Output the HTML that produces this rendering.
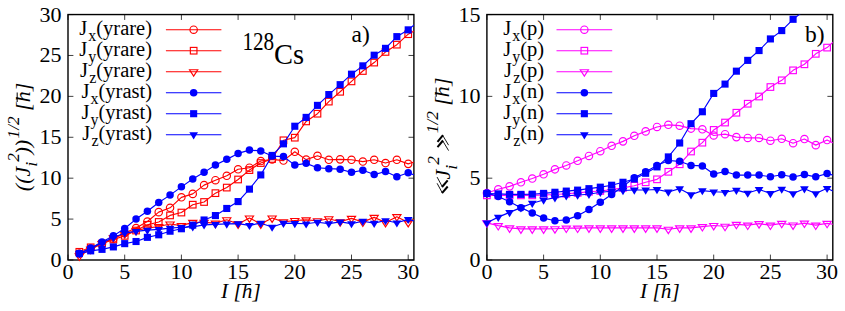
<!DOCTYPE html>
<html><head><meta charset="utf-8"><title>128Cs angular momentum components</title>
<style>html,body{margin:0;padding:0;background:#fff}body{width:845px;height:311px;overflow:hidden;font-family:"Liberation Serif",serif}svg{display:block}text{white-space:pre}</style>
</head><body>
<svg width="845" height="311" viewBox="0 0 845 311" font-family="'Liberation Serif', serif" font-size="20.5" fill="#000">
<rect width="845" height="311" fill="#fff"/>
<clipPath id="ca"><rect x="68.0" y="14.55" width="345.90" height="245.45"/></clipPath>
<clipPath id="cb"><rect x="486.9" y="14.55" width="345.90" height="245.45"/></clipPath>
<path d="M68.00 260.0v-5.4M68.00 14.55v5.4M124.70 260.0v-5.4M124.70 14.55v5.4M181.40 260.0v-5.4M181.40 14.55v5.4M238.10 260.0v-5.4M238.10 14.55v5.4M294.80 260.0v-5.4M294.80 14.55v5.4M351.50 260.0v-5.4M351.50 14.55v5.4M408.20 260.0v-5.4M408.20 14.55v5.4M68.0 260.00h5.4M413.9 260.00h-5.4M68.0 219.09h5.4M413.9 219.09h-5.4M68.0 178.18h5.4M413.9 178.18h-5.4M68.0 137.28h5.4M413.9 137.28h-5.4M68.0 96.37h5.4M413.9 96.37h-5.4M68.0 55.46h5.4M413.9 55.46h-5.4M68.0 14.55h5.4M413.9 14.55h-5.4" stroke="#000" stroke-width="0.75" fill="none"/>
<rect x="68.0" y="14.55" width="345.90" height="245.45" fill="none" stroke="#000" stroke-width="1.4"/>
<text transform="translate(68.00,279.1) scale(1.06,1)" font-size="20.8" text-anchor="middle">0</text>
<text transform="translate(124.70,279.1) scale(1.06,1)" font-size="20.8" text-anchor="middle">5</text>
<text transform="translate(181.40,279.1) scale(1.06,1)" font-size="20.8" text-anchor="middle">10</text>
<text transform="translate(238.10,279.1) scale(1.06,1)" font-size="20.8" text-anchor="middle">15</text>
<text transform="translate(294.80,279.1) scale(1.06,1)" font-size="20.8" text-anchor="middle">20</text>
<text transform="translate(351.50,279.1) scale(1.06,1)" font-size="20.8" text-anchor="middle">25</text>
<text transform="translate(408.20,279.1) scale(1.06,1)" font-size="20.8" text-anchor="middle">30</text>
<text transform="translate(61.60,267.00) scale(1.06,1)" font-size="20.8" text-anchor="end">0</text>
<text transform="translate(61.60,226.09) scale(1.06,1)" font-size="20.8" text-anchor="end">5</text>
<text transform="translate(61.60,185.18) scale(1.06,1)" font-size="20.8" text-anchor="end">10</text>
<text transform="translate(61.60,144.28) scale(1.06,1)" font-size="20.8" text-anchor="end">15</text>
<text transform="translate(61.60,103.37) scale(1.06,1)" font-size="20.8" text-anchor="end">20</text>
<text transform="translate(61.60,62.46) scale(1.06,1)" font-size="20.8" text-anchor="end">25</text>
<text transform="translate(61.60,21.55) scale(1.06,1)" font-size="20.8" text-anchor="end">30</text>
<g>
<path d="M79.34 253.45L90.68 248.55L102.02 243.64L113.36 238.73L124.70 233.00L136.04 228.01L147.38 221.55L158.72 212.14L170.06 207.80L181.40 197.33L192.74 193.89L204.08 185.14L215.42 180.23L226.76 175.81L238.10 169.27L249.44 167.71L260.78 161.00L272.12 159.37L283.46 160.59L294.80 151.76L306.14 159.61L317.48 155.77L328.82 159.77L340.16 159.37L351.50 159.77L362.84 161.57L374.18 159.77L385.52 163.05L396.86 159.77L408.20 163.87L419.54 160.18" clip-path="url(#ca)" fill="none" stroke="#ff0000" stroke-width="1.15" stroke-linejoin="round"/>
<circle cx="79.34" cy="253.45" r="3.70" fill="none" stroke="#ff0000" stroke-width="1.15"/>
<circle cx="90.68" cy="248.55" r="3.70" fill="none" stroke="#ff0000" stroke-width="1.15"/>
<circle cx="102.02" cy="243.64" r="3.70" fill="none" stroke="#ff0000" stroke-width="1.15"/>
<circle cx="113.36" cy="238.73" r="3.70" fill="none" stroke="#ff0000" stroke-width="1.15"/>
<circle cx="124.70" cy="233.00" r="3.70" fill="none" stroke="#ff0000" stroke-width="1.15"/>
<circle cx="136.04" cy="228.01" r="3.70" fill="none" stroke="#ff0000" stroke-width="1.15"/>
<circle cx="147.38" cy="221.55" r="3.70" fill="none" stroke="#ff0000" stroke-width="1.15"/>
<circle cx="158.72" cy="212.14" r="3.70" fill="none" stroke="#ff0000" stroke-width="1.15"/>
<circle cx="170.06" cy="207.80" r="3.70" fill="none" stroke="#ff0000" stroke-width="1.15"/>
<circle cx="181.40" cy="197.33" r="3.70" fill="none" stroke="#ff0000" stroke-width="1.15"/>
<circle cx="192.74" cy="193.89" r="3.70" fill="none" stroke="#ff0000" stroke-width="1.15"/>
<circle cx="204.08" cy="185.14" r="3.70" fill="none" stroke="#ff0000" stroke-width="1.15"/>
<circle cx="215.42" cy="180.23" r="3.70" fill="none" stroke="#ff0000" stroke-width="1.15"/>
<circle cx="226.76" cy="175.81" r="3.70" fill="none" stroke="#ff0000" stroke-width="1.15"/>
<circle cx="238.10" cy="169.27" r="3.70" fill="none" stroke="#ff0000" stroke-width="1.15"/>
<circle cx="249.44" cy="167.71" r="3.70" fill="none" stroke="#ff0000" stroke-width="1.15"/>
<circle cx="260.78" cy="161.00" r="3.70" fill="none" stroke="#ff0000" stroke-width="1.15"/>
<circle cx="272.12" cy="159.37" r="3.70" fill="none" stroke="#ff0000" stroke-width="1.15"/>
<circle cx="283.46" cy="160.59" r="3.70" fill="none" stroke="#ff0000" stroke-width="1.15"/>
<circle cx="294.80" cy="151.76" r="3.70" fill="none" stroke="#ff0000" stroke-width="1.15"/>
<circle cx="306.14" cy="159.61" r="3.70" fill="none" stroke="#ff0000" stroke-width="1.15"/>
<circle cx="317.48" cy="155.77" r="3.70" fill="none" stroke="#ff0000" stroke-width="1.15"/>
<circle cx="328.82" cy="159.77" r="3.70" fill="none" stroke="#ff0000" stroke-width="1.15"/>
<circle cx="340.16" cy="159.37" r="3.70" fill="none" stroke="#ff0000" stroke-width="1.15"/>
<circle cx="351.50" cy="159.77" r="3.70" fill="none" stroke="#ff0000" stroke-width="1.15"/>
<circle cx="362.84" cy="161.57" r="3.70" fill="none" stroke="#ff0000" stroke-width="1.15"/>
<circle cx="374.18" cy="159.77" r="3.70" fill="none" stroke="#ff0000" stroke-width="1.15"/>
<circle cx="385.52" cy="163.05" r="3.70" fill="none" stroke="#ff0000" stroke-width="1.15"/>
<circle cx="396.86" cy="159.77" r="3.70" fill="none" stroke="#ff0000" stroke-width="1.15"/>
<circle cx="408.20" cy="163.87" r="3.70" fill="none" stroke="#ff0000" stroke-width="1.15"/>
<path d="M79.34 251.82L90.68 247.32L102.02 243.64L113.36 239.55L124.70 235.86L136.04 230.55L147.38 224.82L158.72 221.96L170.06 215.41L181.40 212.55L192.74 204.69L204.08 201.99L215.42 193.16L226.76 187.59L238.10 179.49L249.44 170.08L260.78 163.05L272.12 158.96L283.46 140.30L294.80 137.68L306.14 121.40L317.48 113.71L328.82 101.60L340.16 91.78L351.50 81.39L362.84 71.00L374.18 62.58L385.52 51.94L396.86 44.66L408.20 34.19L419.54 28.05" clip-path="url(#ca)" fill="none" stroke="#ff0000" stroke-width="1.15" stroke-linejoin="round"/>
<rect x="76.04" y="248.52" width="6.60" height="6.60" fill="none" stroke="#ff0000" stroke-width="1.15"/>
<rect x="87.38" y="244.02" width="6.60" height="6.60" fill="none" stroke="#ff0000" stroke-width="1.15"/>
<rect x="98.72" y="240.34" width="6.60" height="6.60" fill="none" stroke="#ff0000" stroke-width="1.15"/>
<rect x="110.06" y="236.25" width="6.60" height="6.60" fill="none" stroke="#ff0000" stroke-width="1.15"/>
<rect x="121.40" y="232.56" width="6.60" height="6.60" fill="none" stroke="#ff0000" stroke-width="1.15"/>
<rect x="132.74" y="227.25" width="6.60" height="6.60" fill="none" stroke="#ff0000" stroke-width="1.15"/>
<rect x="144.08" y="221.52" width="6.60" height="6.60" fill="none" stroke="#ff0000" stroke-width="1.15"/>
<rect x="155.42" y="218.66" width="6.60" height="6.60" fill="none" stroke="#ff0000" stroke-width="1.15"/>
<rect x="166.76" y="212.11" width="6.60" height="6.60" fill="none" stroke="#ff0000" stroke-width="1.15"/>
<rect x="178.10" y="209.25" width="6.60" height="6.60" fill="none" stroke="#ff0000" stroke-width="1.15"/>
<rect x="189.44" y="201.39" width="6.60" height="6.60" fill="none" stroke="#ff0000" stroke-width="1.15"/>
<rect x="200.78" y="198.69" width="6.60" height="6.60" fill="none" stroke="#ff0000" stroke-width="1.15"/>
<rect x="212.12" y="189.86" width="6.60" height="6.60" fill="none" stroke="#ff0000" stroke-width="1.15"/>
<rect x="223.46" y="184.29" width="6.60" height="6.60" fill="none" stroke="#ff0000" stroke-width="1.15"/>
<rect x="234.80" y="176.19" width="6.60" height="6.60" fill="none" stroke="#ff0000" stroke-width="1.15"/>
<rect x="246.14" y="166.78" width="6.60" height="6.60" fill="none" stroke="#ff0000" stroke-width="1.15"/>
<rect x="257.48" y="159.75" width="6.60" height="6.60" fill="none" stroke="#ff0000" stroke-width="1.15"/>
<rect x="268.82" y="155.66" width="6.60" height="6.60" fill="none" stroke="#ff0000" stroke-width="1.15"/>
<rect x="280.16" y="137.00" width="6.60" height="6.60" fill="none" stroke="#ff0000" stroke-width="1.15"/>
<rect x="291.50" y="134.38" width="6.60" height="6.60" fill="none" stroke="#ff0000" stroke-width="1.15"/>
<rect x="302.84" y="118.10" width="6.60" height="6.60" fill="none" stroke="#ff0000" stroke-width="1.15"/>
<rect x="314.18" y="110.41" width="6.60" height="6.60" fill="none" stroke="#ff0000" stroke-width="1.15"/>
<rect x="325.52" y="98.30" width="6.60" height="6.60" fill="none" stroke="#ff0000" stroke-width="1.15"/>
<rect x="336.86" y="88.48" width="6.60" height="6.60" fill="none" stroke="#ff0000" stroke-width="1.15"/>
<rect x="348.20" y="78.09" width="6.60" height="6.60" fill="none" stroke="#ff0000" stroke-width="1.15"/>
<rect x="359.54" y="67.70" width="6.60" height="6.60" fill="none" stroke="#ff0000" stroke-width="1.15"/>
<rect x="370.88" y="59.28" width="6.60" height="6.60" fill="none" stroke="#ff0000" stroke-width="1.15"/>
<rect x="382.22" y="48.64" width="6.60" height="6.60" fill="none" stroke="#ff0000" stroke-width="1.15"/>
<rect x="393.56" y="41.36" width="6.60" height="6.60" fill="none" stroke="#ff0000" stroke-width="1.15"/>
<rect x="404.90" y="30.89" width="6.60" height="6.60" fill="none" stroke="#ff0000" stroke-width="1.15"/>
<path d="M79.34 255.91L90.68 249.36L102.02 243.64L113.36 237.91L124.70 233.82L136.04 230.55L147.38 228.09L158.72 226.46L170.06 224.00L181.40 225.64L192.74 222.36L204.08 222.36L215.42 223.18L226.76 219.75L238.10 223.92L249.44 217.95L260.78 223.92L272.12 217.95L283.46 221.87L294.80 220.48L306.14 219.91L317.48 220.73L328.82 218.76L340.16 221.79L351.50 218.36L362.84 222.04L374.18 217.37L385.52 222.53L396.86 216.64L408.20 222.53L419.54 216.23" clip-path="url(#ca)" fill="none" stroke="#ff0000" stroke-width="1.15" stroke-linejoin="round"/>
<path d="M75.24 253.91L83.44 253.91L79.34 260.31Z" fill="none" stroke="#ff0000" stroke-width="1.15"/>
<path d="M86.58 247.36L94.78 247.36L90.68 253.76Z" fill="none" stroke="#ff0000" stroke-width="1.15"/>
<path d="M97.92 241.64L106.12 241.64L102.02 248.04Z" fill="none" stroke="#ff0000" stroke-width="1.15"/>
<path d="M109.26 235.91L117.46 235.91L113.36 242.31Z" fill="none" stroke="#ff0000" stroke-width="1.15"/>
<path d="M120.60 231.82L128.80 231.82L124.70 238.22Z" fill="none" stroke="#ff0000" stroke-width="1.15"/>
<path d="M131.94 228.55L140.14 228.55L136.04 234.95Z" fill="none" stroke="#ff0000" stroke-width="1.15"/>
<path d="M143.28 226.09L151.48 226.09L147.38 232.49Z" fill="none" stroke="#ff0000" stroke-width="1.15"/>
<path d="M154.62 224.46L162.82 224.46L158.72 230.86Z" fill="none" stroke="#ff0000" stroke-width="1.15"/>
<path d="M165.96 222.00L174.16 222.00L170.06 228.40Z" fill="none" stroke="#ff0000" stroke-width="1.15"/>
<path d="M177.30 223.64L185.50 223.64L181.40 230.04Z" fill="none" stroke="#ff0000" stroke-width="1.15"/>
<path d="M188.64 220.36L196.84 220.36L192.74 226.76Z" fill="none" stroke="#ff0000" stroke-width="1.15"/>
<path d="M199.98 220.36L208.18 220.36L204.08 226.76Z" fill="none" stroke="#ff0000" stroke-width="1.15"/>
<path d="M211.32 221.18L219.52 221.18L215.42 227.58Z" fill="none" stroke="#ff0000" stroke-width="1.15"/>
<path d="M222.66 217.75L230.86 217.75L226.76 224.15Z" fill="none" stroke="#ff0000" stroke-width="1.15"/>
<path d="M234.00 221.92L242.20 221.92L238.10 228.32Z" fill="none" stroke="#ff0000" stroke-width="1.15"/>
<path d="M245.34 215.95L253.54 215.95L249.44 222.35Z" fill="none" stroke="#ff0000" stroke-width="1.15"/>
<path d="M256.68 221.92L264.88 221.92L260.78 228.32Z" fill="none" stroke="#ff0000" stroke-width="1.15"/>
<path d="M268.02 215.95L276.22 215.95L272.12 222.35Z" fill="none" stroke="#ff0000" stroke-width="1.15"/>
<path d="M279.36 219.87L287.56 219.87L283.46 226.27Z" fill="none" stroke="#ff0000" stroke-width="1.15"/>
<path d="M290.70 218.48L298.90 218.48L294.80 224.88Z" fill="none" stroke="#ff0000" stroke-width="1.15"/>
<path d="M302.04 217.91L310.24 217.91L306.14 224.31Z" fill="none" stroke="#ff0000" stroke-width="1.15"/>
<path d="M313.38 218.73L321.58 218.73L317.48 225.13Z" fill="none" stroke="#ff0000" stroke-width="1.15"/>
<path d="M324.72 216.76L332.92 216.76L328.82 223.16Z" fill="none" stroke="#ff0000" stroke-width="1.15"/>
<path d="M336.06 219.79L344.26 219.79L340.16 226.19Z" fill="none" stroke="#ff0000" stroke-width="1.15"/>
<path d="M347.40 216.36L355.60 216.36L351.50 222.76Z" fill="none" stroke="#ff0000" stroke-width="1.15"/>
<path d="M358.74 220.04L366.94 220.04L362.84 226.44Z" fill="none" stroke="#ff0000" stroke-width="1.15"/>
<path d="M370.08 215.37L378.28 215.37L374.18 221.77Z" fill="none" stroke="#ff0000" stroke-width="1.15"/>
<path d="M381.42 220.53L389.62 220.53L385.52 226.93Z" fill="none" stroke="#ff0000" stroke-width="1.15"/>
<path d="M392.76 214.64L400.96 214.64L396.86 221.04Z" fill="none" stroke="#ff0000" stroke-width="1.15"/>
<path d="M404.10 220.53L412.30 220.53L408.20 226.93Z" fill="none" stroke="#ff0000" stroke-width="1.15"/>
<path d="M79.34 253.62L90.68 248.05L102.02 242.00L113.36 235.86L124.70 228.50L136.04 219.09L147.38 211.32L158.72 202.48L170.06 195.12L181.40 186.86L192.74 179.00L204.08 172.37L215.42 165.09L226.76 159.37L238.10 153.39L249.44 150.12L260.78 150.94L272.12 156.09L283.46 156.58L294.80 165.09L306.14 163.37L317.48 167.71L328.82 168.69L340.16 169.18L351.50 172.37L362.84 170.25L374.18 174.58L385.52 171.56L396.86 176.71L408.20 172.70L419.54 176.96" clip-path="url(#ca)" fill="none" stroke="#0000ff" stroke-width="1.15" stroke-linejoin="round"/>
<circle cx="79.34" cy="253.62" r="3.75" fill="#0000ff" stroke="none"/>
<circle cx="90.68" cy="248.05" r="3.75" fill="#0000ff" stroke="none"/>
<circle cx="102.02" cy="242.00" r="3.75" fill="#0000ff" stroke="none"/>
<circle cx="113.36" cy="235.86" r="3.75" fill="#0000ff" stroke="none"/>
<circle cx="124.70" cy="228.50" r="3.75" fill="#0000ff" stroke="none"/>
<circle cx="136.04" cy="219.09" r="3.75" fill="#0000ff" stroke="none"/>
<circle cx="147.38" cy="211.32" r="3.75" fill="#0000ff" stroke="none"/>
<circle cx="158.72" cy="202.48" r="3.75" fill="#0000ff" stroke="none"/>
<circle cx="170.06" cy="195.12" r="3.75" fill="#0000ff" stroke="none"/>
<circle cx="181.40" cy="186.86" r="3.75" fill="#0000ff" stroke="none"/>
<circle cx="192.74" cy="179.00" r="3.75" fill="#0000ff" stroke="none"/>
<circle cx="204.08" cy="172.37" r="3.75" fill="#0000ff" stroke="none"/>
<circle cx="215.42" cy="165.09" r="3.75" fill="#0000ff" stroke="none"/>
<circle cx="226.76" cy="159.37" r="3.75" fill="#0000ff" stroke="none"/>
<circle cx="238.10" cy="153.39" r="3.75" fill="#0000ff" stroke="none"/>
<circle cx="249.44" cy="150.12" r="3.75" fill="#0000ff" stroke="none"/>
<circle cx="260.78" cy="150.94" r="3.75" fill="#0000ff" stroke="none"/>
<circle cx="272.12" cy="156.09" r="3.75" fill="#0000ff" stroke="none"/>
<circle cx="283.46" cy="156.58" r="3.75" fill="#0000ff" stroke="none"/>
<circle cx="294.80" cy="165.09" r="3.75" fill="#0000ff" stroke="none"/>
<circle cx="306.14" cy="163.37" r="3.75" fill="#0000ff" stroke="none"/>
<circle cx="317.48" cy="167.71" r="3.75" fill="#0000ff" stroke="none"/>
<circle cx="328.82" cy="168.69" r="3.75" fill="#0000ff" stroke="none"/>
<circle cx="340.16" cy="169.18" r="3.75" fill="#0000ff" stroke="none"/>
<circle cx="351.50" cy="172.37" r="3.75" fill="#0000ff" stroke="none"/>
<circle cx="362.84" cy="170.25" r="3.75" fill="#0000ff" stroke="none"/>
<circle cx="374.18" cy="174.58" r="3.75" fill="#0000ff" stroke="none"/>
<circle cx="385.52" cy="171.56" r="3.75" fill="#0000ff" stroke="none"/>
<circle cx="396.86" cy="176.71" r="3.75" fill="#0000ff" stroke="none"/>
<circle cx="408.20" cy="172.70" r="3.75" fill="#0000ff" stroke="none"/>
<path d="M79.34 253.62L90.68 250.84L102.02 249.36L113.36 246.91L124.70 243.64L136.04 241.51L147.38 237.34L158.72 234.80L170.06 231.20L181.40 228.75L192.74 225.15L204.08 219.99L215.42 215.57L226.76 208.46L238.10 201.58L249.44 189.15L260.78 174.91L272.12 155.44L283.46 143.82L294.80 126.23L306.14 117.39L317.48 105.37L328.82 94.57L340.16 84.67L351.50 74.19L362.84 65.85L374.18 55.21L385.52 48.34L396.86 36.64L408.20 29.85L419.54 20.28" clip-path="url(#ca)" fill="none" stroke="#0000ff" stroke-width="1.15" stroke-linejoin="round"/>
<rect x="75.79" y="250.07" width="7.10" height="7.10" fill="#0000ff" stroke="none"/>
<rect x="87.13" y="247.29" width="7.10" height="7.10" fill="#0000ff" stroke="none"/>
<rect x="98.47" y="245.81" width="7.10" height="7.10" fill="#0000ff" stroke="none"/>
<rect x="109.81" y="243.36" width="7.10" height="7.10" fill="#0000ff" stroke="none"/>
<rect x="121.15" y="240.09" width="7.10" height="7.10" fill="#0000ff" stroke="none"/>
<rect x="132.49" y="237.96" width="7.10" height="7.10" fill="#0000ff" stroke="none"/>
<rect x="143.83" y="233.79" width="7.10" height="7.10" fill="#0000ff" stroke="none"/>
<rect x="155.17" y="231.25" width="7.10" height="7.10" fill="#0000ff" stroke="none"/>
<rect x="166.51" y="227.65" width="7.10" height="7.10" fill="#0000ff" stroke="none"/>
<rect x="177.85" y="225.20" width="7.10" height="7.10" fill="#0000ff" stroke="none"/>
<rect x="189.19" y="221.60" width="7.10" height="7.10" fill="#0000ff" stroke="none"/>
<rect x="200.53" y="216.44" width="7.10" height="7.10" fill="#0000ff" stroke="none"/>
<rect x="211.87" y="212.02" width="7.10" height="7.10" fill="#0000ff" stroke="none"/>
<rect x="223.21" y="204.91" width="7.10" height="7.10" fill="#0000ff" stroke="none"/>
<rect x="234.55" y="198.03" width="7.10" height="7.10" fill="#0000ff" stroke="none"/>
<rect x="245.89" y="185.60" width="7.10" height="7.10" fill="#0000ff" stroke="none"/>
<rect x="257.23" y="171.36" width="7.10" height="7.10" fill="#0000ff" stroke="none"/>
<rect x="268.57" y="151.89" width="7.10" height="7.10" fill="#0000ff" stroke="none"/>
<rect x="279.91" y="140.27" width="7.10" height="7.10" fill="#0000ff" stroke="none"/>
<rect x="291.25" y="122.68" width="7.10" height="7.10" fill="#0000ff" stroke="none"/>
<rect x="302.59" y="113.84" width="7.10" height="7.10" fill="#0000ff" stroke="none"/>
<rect x="313.93" y="101.82" width="7.10" height="7.10" fill="#0000ff" stroke="none"/>
<rect x="325.27" y="91.02" width="7.10" height="7.10" fill="#0000ff" stroke="none"/>
<rect x="336.61" y="81.12" width="7.10" height="7.10" fill="#0000ff" stroke="none"/>
<rect x="347.95" y="70.64" width="7.10" height="7.10" fill="#0000ff" stroke="none"/>
<rect x="359.29" y="62.30" width="7.10" height="7.10" fill="#0000ff" stroke="none"/>
<rect x="370.63" y="51.66" width="7.10" height="7.10" fill="#0000ff" stroke="none"/>
<rect x="381.97" y="44.79" width="7.10" height="7.10" fill="#0000ff" stroke="none"/>
<rect x="393.31" y="33.09" width="7.10" height="7.10" fill="#0000ff" stroke="none"/>
<rect x="404.65" y="26.30" width="7.10" height="7.10" fill="#0000ff" stroke="none"/>
<path d="M79.34 253.45L90.68 248.55L102.02 242.82L113.36 237.50L124.70 233.08L136.04 231.36L147.38 230.14L158.72 229.32L170.06 228.09L181.40 227.27L192.74 226.86L204.08 224.82L215.42 224.33L226.76 223.92L238.10 223.59L249.44 225.31L260.78 223.18L272.12 227.03L283.46 223.18L294.80 223.43L306.14 223.76L317.48 222.20L328.82 223.59L340.16 221.87L351.50 223.59L362.84 221.22L374.18 223.18L385.52 220.48L396.86 222.77L408.20 219.34L419.54 222.36" clip-path="url(#ca)" fill="none" stroke="#0000ff" stroke-width="1.15" stroke-linejoin="round"/>
<path d="M74.99 251.10L83.69 251.10L79.34 258.20Z" fill="#0000ff" stroke="none"/>
<path d="M86.33 246.20L95.03 246.20L90.68 253.30Z" fill="#0000ff" stroke="none"/>
<path d="M97.67 240.47L106.37 240.47L102.02 247.57Z" fill="#0000ff" stroke="none"/>
<path d="M109.01 235.15L117.71 235.15L113.36 242.25Z" fill="#0000ff" stroke="none"/>
<path d="M120.35 230.73L129.05 230.73L124.70 237.83Z" fill="#0000ff" stroke="none"/>
<path d="M131.69 229.01L140.39 229.01L136.04 236.11Z" fill="#0000ff" stroke="none"/>
<path d="M143.03 227.79L151.73 227.79L147.38 234.89Z" fill="#0000ff" stroke="none"/>
<path d="M154.37 226.97L163.07 226.97L158.72 234.07Z" fill="#0000ff" stroke="none"/>
<path d="M165.71 225.74L174.41 225.74L170.06 232.84Z" fill="#0000ff" stroke="none"/>
<path d="M177.05 224.92L185.75 224.92L181.40 232.02Z" fill="#0000ff" stroke="none"/>
<path d="M188.39 224.51L197.09 224.51L192.74 231.61Z" fill="#0000ff" stroke="none"/>
<path d="M199.73 222.47L208.43 222.47L204.08 229.57Z" fill="#0000ff" stroke="none"/>
<path d="M211.07 221.98L219.77 221.98L215.42 229.08Z" fill="#0000ff" stroke="none"/>
<path d="M222.41 221.57L231.11 221.57L226.76 228.67Z" fill="#0000ff" stroke="none"/>
<path d="M233.75 221.24L242.45 221.24L238.10 228.34Z" fill="#0000ff" stroke="none"/>
<path d="M245.09 222.96L253.79 222.96L249.44 230.06Z" fill="#0000ff" stroke="none"/>
<path d="M256.43 220.83L265.13 220.83L260.78 227.93Z" fill="#0000ff" stroke="none"/>
<path d="M267.77 224.68L276.47 224.68L272.12 231.78Z" fill="#0000ff" stroke="none"/>
<path d="M279.11 220.83L287.81 220.83L283.46 227.93Z" fill="#0000ff" stroke="none"/>
<path d="M290.45 221.08L299.15 221.08L294.80 228.18Z" fill="#0000ff" stroke="none"/>
<path d="M301.79 221.41L310.49 221.41L306.14 228.51Z" fill="#0000ff" stroke="none"/>
<path d="M313.13 219.85L321.83 219.85L317.48 226.95Z" fill="#0000ff" stroke="none"/>
<path d="M324.47 221.24L333.17 221.24L328.82 228.34Z" fill="#0000ff" stroke="none"/>
<path d="M335.81 219.52L344.51 219.52L340.16 226.62Z" fill="#0000ff" stroke="none"/>
<path d="M347.15 221.24L355.85 221.24L351.50 228.34Z" fill="#0000ff" stroke="none"/>
<path d="M358.49 218.87L367.19 218.87L362.84 225.97Z" fill="#0000ff" stroke="none"/>
<path d="M369.83 220.83L378.53 220.83L374.18 227.93Z" fill="#0000ff" stroke="none"/>
<path d="M381.17 218.13L389.87 218.13L385.52 225.23Z" fill="#0000ff" stroke="none"/>
<path d="M392.51 220.42L401.21 220.42L396.86 227.52Z" fill="#0000ff" stroke="none"/>
<path d="M403.85 216.99L412.55 216.99L408.20 224.09Z" fill="#0000ff" stroke="none"/>
</g>
<text x="152.0" y="34.60" text-anchor="end">J<tspan dy="6.2" dx="1.1" font-size="16">x</tspan><tspan dy="-6.2">(yrare)</tspan></text>
<path d="M165.9 29.70H221.4" stroke="#ff0000" stroke-width="1.15" fill="none"/>
<circle cx="193.65" cy="29.70" r="3.70" fill="none" stroke="#ff0000" stroke-width="1.15"/>
<text x="152.0" y="55.60" text-anchor="end">J<tspan dy="6.2" dx="1.1" font-size="16">y</tspan><tspan dy="-6.2">(yrare)</tspan></text>
<path d="M165.9 50.70H221.4" stroke="#ff0000" stroke-width="1.15" fill="none"/>
<rect x="190.35" y="47.40" width="6.60" height="6.60" fill="none" stroke="#ff0000" stroke-width="1.15"/>
<text x="152.0" y="76.60" text-anchor="end">J<tspan dy="6.2" dx="1.1" font-size="16">z</tspan><tspan dy="-6.2">(yrare)</tspan></text>
<path d="M165.9 71.70H221.4" stroke="#ff0000" stroke-width="1.15" fill="none"/>
<path d="M189.55 69.70L197.75 69.70L193.65 76.10Z" fill="none" stroke="#ff0000" stroke-width="1.15"/>
<text x="152.0" y="97.60" text-anchor="end">J<tspan dy="6.2" dx="1.1" font-size="16">x</tspan><tspan dy="-6.2">(yrast)</tspan></text>
<path d="M165.9 92.70H221.4" stroke="#0000ff" stroke-width="1.15" fill="none"/>
<circle cx="193.65" cy="92.70" r="3.75" fill="#0000ff" stroke="none"/>
<text x="152.0" y="118.60" text-anchor="end">J<tspan dy="6.2" dx="1.1" font-size="16">y</tspan><tspan dy="-6.2">(yrast)</tspan></text>
<path d="M165.9 113.70H221.4" stroke="#0000ff" stroke-width="1.15" fill="none"/>
<rect x="190.10" y="110.15" width="7.10" height="7.10" fill="#0000ff" stroke="none"/>
<text x="152.0" y="139.60" text-anchor="end">J<tspan dy="6.2" dx="1.1" font-size="16">z</tspan><tspan dy="-6.2">(yrast)</tspan></text>
<path d="M165.9 134.70H221.4" stroke="#0000ff" stroke-width="1.15" fill="none"/>
<path d="M189.30 132.35L198.00 132.35L193.65 139.45Z" fill="#0000ff" stroke="none"/>
<text transform="translate(242.4,49.9) scale(0.865,1)" font-size="24.5">128</text><text transform="translate(274,64.3) scale(0.95,1)" font-size="30">Cs</text>
<text x="351.6" y="42.3" font-size="23.5">a)</text>
<g transform="translate(221,297.7) scale(1.04,1)"><text x="0.00" y="0" font-size="20.5" font-style="italic">I [</text><text x="19.93" y="0" font-size="20.5" font-style="italic">h</text><path d="M20.34 -13.22h8.61" stroke="#000" stroke-width="1"/><text x="30.18" y="0" font-size="20.5" font-style="italic">]</text></g>
<g transform="translate(30.4,191.2) rotate(-90) scale(1.075,1)"><text x="0.00" y="0" font-size="20.5" font-style="italic">((J</text><text x="22.75" y="7" font-size="17" font-style="italic">i</text><text x="27.48" y="-11.5" font-size="16" font-style="italic">2</text><text x="34.08" y="0" font-size="20.5" font-style="italic">))</text><text x="49.13" y="-11" font-size="16" font-style="italic">1/2</text><text x="69.57" y="0" font-size="20.5" font-style="italic"> [</text><text x="82.68" y="0" font-size="20.5" font-style="italic">h</text><path d="M83.09 -13.22h8.61" stroke="#000" stroke-width="1"/><text x="92.93" y="0" font-size="20.5" font-style="italic">]</text></g>
<path d="M486.90 260.0v-5.4M486.90 14.55v5.4M543.60 260.0v-5.4M543.60 14.55v5.4M600.30 260.0v-5.4M600.30 14.55v5.4M657.00 260.0v-5.4M657.00 14.55v5.4M713.70 260.0v-5.4M713.70 14.55v5.4M770.40 260.0v-5.4M770.40 14.55v5.4M827.10 260.0v-5.4M827.10 14.55v5.4M486.9 260.00h5.4M832.8 260.00h-5.4M486.9 178.18h5.4M832.8 178.18h-5.4M486.9 96.37h5.4M832.8 96.37h-5.4M486.9 14.55h5.4M832.8 14.55h-5.4" stroke="#000" stroke-width="0.75" fill="none"/>
<rect x="486.9" y="14.55" width="345.90" height="245.45" fill="none" stroke="#000" stroke-width="1.4"/>
<text transform="translate(486.90,279.1) scale(1.06,1)" font-size="20.8" text-anchor="middle">0</text>
<text transform="translate(543.60,279.1) scale(1.06,1)" font-size="20.8" text-anchor="middle">5</text>
<text transform="translate(600.30,279.1) scale(1.06,1)" font-size="20.8" text-anchor="middle">10</text>
<text transform="translate(657.00,279.1) scale(1.06,1)" font-size="20.8" text-anchor="middle">15</text>
<text transform="translate(713.70,279.1) scale(1.06,1)" font-size="20.8" text-anchor="middle">20</text>
<text transform="translate(770.40,279.1) scale(1.06,1)" font-size="20.8" text-anchor="middle">25</text>
<text transform="translate(827.10,279.1) scale(1.06,1)" font-size="20.8" text-anchor="middle">30</text>
<text transform="translate(480.50,267.00) scale(1.06,1)" font-size="20.8" text-anchor="end">0</text>
<text transform="translate(480.50,185.18) scale(1.06,1)" font-size="20.8" text-anchor="end">5</text>
<text transform="translate(480.50,103.37) scale(1.06,1)" font-size="20.8" text-anchor="end">10</text>
<text transform="translate(480.50,21.55) scale(1.06,1)" font-size="20.8" text-anchor="end">15</text>
<g>
<path d="M486.90 193.07L498.24 189.31L509.58 186.37L520.92 182.27L532.26 178.51L543.60 174.26L554.94 169.35L566.28 165.42L577.62 160.84L588.96 155.93L600.30 151.18L611.64 145.78L622.98 141.37L634.32 135.80L645.66 131.38L657.00 126.97L668.34 124.84L679.68 125.66L691.02 128.60L702.36 129.26L713.70 135.48L725.04 134.17L736.38 137.11L747.72 137.93L759.06 137.93L770.40 140.71L781.74 138.75L793.08 143.17L804.42 139.07L815.76 145.13L827.10 140.06L838.44 145.46" clip-path="url(#cb)" fill="none" stroke="#ff00ff" stroke-width="1.15" stroke-linejoin="round"/>
<circle cx="486.90" cy="193.07" r="3.70" fill="none" stroke="#ff00ff" stroke-width="1.15"/>
<circle cx="498.24" cy="189.31" r="3.70" fill="none" stroke="#ff00ff" stroke-width="1.15"/>
<circle cx="509.58" cy="186.37" r="3.70" fill="none" stroke="#ff00ff" stroke-width="1.15"/>
<circle cx="520.92" cy="182.27" r="3.70" fill="none" stroke="#ff00ff" stroke-width="1.15"/>
<circle cx="532.26" cy="178.51" r="3.70" fill="none" stroke="#ff00ff" stroke-width="1.15"/>
<circle cx="543.60" cy="174.26" r="3.70" fill="none" stroke="#ff00ff" stroke-width="1.15"/>
<circle cx="554.94" cy="169.35" r="3.70" fill="none" stroke="#ff00ff" stroke-width="1.15"/>
<circle cx="566.28" cy="165.42" r="3.70" fill="none" stroke="#ff00ff" stroke-width="1.15"/>
<circle cx="577.62" cy="160.84" r="3.70" fill="none" stroke="#ff00ff" stroke-width="1.15"/>
<circle cx="588.96" cy="155.93" r="3.70" fill="none" stroke="#ff00ff" stroke-width="1.15"/>
<circle cx="600.30" cy="151.18" r="3.70" fill="none" stroke="#ff00ff" stroke-width="1.15"/>
<circle cx="611.64" cy="145.78" r="3.70" fill="none" stroke="#ff00ff" stroke-width="1.15"/>
<circle cx="622.98" cy="141.37" r="3.70" fill="none" stroke="#ff00ff" stroke-width="1.15"/>
<circle cx="634.32" cy="135.80" r="3.70" fill="none" stroke="#ff00ff" stroke-width="1.15"/>
<circle cx="645.66" cy="131.38" r="3.70" fill="none" stroke="#ff00ff" stroke-width="1.15"/>
<circle cx="657.00" cy="126.97" r="3.70" fill="none" stroke="#ff00ff" stroke-width="1.15"/>
<circle cx="668.34" cy="124.84" r="3.70" fill="none" stroke="#ff00ff" stroke-width="1.15"/>
<circle cx="679.68" cy="125.66" r="3.70" fill="none" stroke="#ff00ff" stroke-width="1.15"/>
<circle cx="691.02" cy="128.60" r="3.70" fill="none" stroke="#ff00ff" stroke-width="1.15"/>
<circle cx="702.36" cy="129.26" r="3.70" fill="none" stroke="#ff00ff" stroke-width="1.15"/>
<circle cx="713.70" cy="135.48" r="3.70" fill="none" stroke="#ff00ff" stroke-width="1.15"/>
<circle cx="725.04" cy="134.17" r="3.70" fill="none" stroke="#ff00ff" stroke-width="1.15"/>
<circle cx="736.38" cy="137.11" r="3.70" fill="none" stroke="#ff00ff" stroke-width="1.15"/>
<circle cx="747.72" cy="137.93" r="3.70" fill="none" stroke="#ff00ff" stroke-width="1.15"/>
<circle cx="759.06" cy="137.93" r="3.70" fill="none" stroke="#ff00ff" stroke-width="1.15"/>
<circle cx="770.40" cy="140.71" r="3.70" fill="none" stroke="#ff00ff" stroke-width="1.15"/>
<circle cx="781.74" cy="138.75" r="3.70" fill="none" stroke="#ff00ff" stroke-width="1.15"/>
<circle cx="793.08" cy="143.17" r="3.70" fill="none" stroke="#ff00ff" stroke-width="1.15"/>
<circle cx="804.42" cy="139.07" r="3.70" fill="none" stroke="#ff00ff" stroke-width="1.15"/>
<circle cx="815.76" cy="145.13" r="3.70" fill="none" stroke="#ff00ff" stroke-width="1.15"/>
<circle cx="827.10" cy="140.06" r="3.70" fill="none" stroke="#ff00ff" stroke-width="1.15"/>
<path d="M486.90 195.36L498.24 195.36L509.58 195.36L520.92 195.36L532.26 195.36L543.60 195.04L554.94 194.55L566.28 193.73L577.62 192.91L588.96 191.76L600.30 190.95L611.64 189.64L622.98 187.84L634.32 185.71L645.66 182.27L657.00 179.33L668.34 171.80L679.68 164.27L691.02 151.51L702.36 142.67L713.70 129.91L725.04 122.55L736.38 112.73L747.72 103.73L759.06 96.53L770.40 87.04L781.74 80.33L793.08 70.35L804.42 64.29L815.76 53.82L827.10 47.60L838.44 37.46" clip-path="url(#cb)" fill="none" stroke="#ff00ff" stroke-width="1.15" stroke-linejoin="round"/>
<rect x="483.60" y="192.06" width="6.60" height="6.60" fill="none" stroke="#ff00ff" stroke-width="1.15"/>
<rect x="494.94" y="192.06" width="6.60" height="6.60" fill="none" stroke="#ff00ff" stroke-width="1.15"/>
<rect x="506.28" y="192.06" width="6.60" height="6.60" fill="none" stroke="#ff00ff" stroke-width="1.15"/>
<rect x="517.62" y="192.06" width="6.60" height="6.60" fill="none" stroke="#ff00ff" stroke-width="1.15"/>
<rect x="528.96" y="192.06" width="6.60" height="6.60" fill="none" stroke="#ff00ff" stroke-width="1.15"/>
<rect x="540.30" y="191.74" width="6.60" height="6.60" fill="none" stroke="#ff00ff" stroke-width="1.15"/>
<rect x="551.64" y="191.25" width="6.60" height="6.60" fill="none" stroke="#ff00ff" stroke-width="1.15"/>
<rect x="562.98" y="190.43" width="6.60" height="6.60" fill="none" stroke="#ff00ff" stroke-width="1.15"/>
<rect x="574.32" y="189.61" width="6.60" height="6.60" fill="none" stroke="#ff00ff" stroke-width="1.15"/>
<rect x="585.66" y="188.46" width="6.60" height="6.60" fill="none" stroke="#ff00ff" stroke-width="1.15"/>
<rect x="597.00" y="187.65" width="6.60" height="6.60" fill="none" stroke="#ff00ff" stroke-width="1.15"/>
<rect x="608.34" y="186.34" width="6.60" height="6.60" fill="none" stroke="#ff00ff" stroke-width="1.15"/>
<rect x="619.68" y="184.54" width="6.60" height="6.60" fill="none" stroke="#ff00ff" stroke-width="1.15"/>
<rect x="631.02" y="182.41" width="6.60" height="6.60" fill="none" stroke="#ff00ff" stroke-width="1.15"/>
<rect x="642.36" y="178.97" width="6.60" height="6.60" fill="none" stroke="#ff00ff" stroke-width="1.15"/>
<rect x="653.70" y="176.03" width="6.60" height="6.60" fill="none" stroke="#ff00ff" stroke-width="1.15"/>
<rect x="665.04" y="168.50" width="6.60" height="6.60" fill="none" stroke="#ff00ff" stroke-width="1.15"/>
<rect x="676.38" y="160.97" width="6.60" height="6.60" fill="none" stroke="#ff00ff" stroke-width="1.15"/>
<rect x="687.72" y="148.21" width="6.60" height="6.60" fill="none" stroke="#ff00ff" stroke-width="1.15"/>
<rect x="699.06" y="139.37" width="6.60" height="6.60" fill="none" stroke="#ff00ff" stroke-width="1.15"/>
<rect x="710.40" y="126.61" width="6.60" height="6.60" fill="none" stroke="#ff00ff" stroke-width="1.15"/>
<rect x="721.74" y="119.25" width="6.60" height="6.60" fill="none" stroke="#ff00ff" stroke-width="1.15"/>
<rect x="733.08" y="109.43" width="6.60" height="6.60" fill="none" stroke="#ff00ff" stroke-width="1.15"/>
<rect x="744.42" y="100.43" width="6.60" height="6.60" fill="none" stroke="#ff00ff" stroke-width="1.15"/>
<rect x="755.76" y="93.23" width="6.60" height="6.60" fill="none" stroke="#ff00ff" stroke-width="1.15"/>
<rect x="767.10" y="83.74" width="6.60" height="6.60" fill="none" stroke="#ff00ff" stroke-width="1.15"/>
<rect x="778.44" y="77.03" width="6.60" height="6.60" fill="none" stroke="#ff00ff" stroke-width="1.15"/>
<rect x="789.78" y="67.05" width="6.60" height="6.60" fill="none" stroke="#ff00ff" stroke-width="1.15"/>
<rect x="801.12" y="60.99" width="6.60" height="6.60" fill="none" stroke="#ff00ff" stroke-width="1.15"/>
<rect x="812.46" y="50.52" width="6.60" height="6.60" fill="none" stroke="#ff00ff" stroke-width="1.15"/>
<rect x="823.80" y="44.30" width="6.60" height="6.60" fill="none" stroke="#ff00ff" stroke-width="1.15"/>
<path d="M486.90 222.86L498.24 225.64L509.58 227.93L520.92 228.91L532.26 228.91L543.60 228.91L554.94 228.75L566.28 228.09L577.62 228.09L588.96 227.93L600.30 227.93L611.64 227.93L622.98 227.93L634.32 227.93L645.66 227.93L657.00 227.93L668.34 229.24L679.68 227.93L691.02 227.93L702.36 226.62L713.70 225.47L725.04 226.29L736.38 224.33L747.72 225.15L759.06 223.67L770.40 225.15L781.74 223.35L793.08 224.98L804.42 223.10L815.76 225.15L827.10 223.35L838.44 225.15" clip-path="url(#cb)" fill="none" stroke="#ff00ff" stroke-width="1.15" stroke-linejoin="round"/>
<path d="M482.80 220.86L491.00 220.86L486.90 227.26Z" fill="none" stroke="#ff00ff" stroke-width="1.15"/>
<path d="M494.14 223.64L502.34 223.64L498.24 230.04Z" fill="none" stroke="#ff00ff" stroke-width="1.15"/>
<path d="M505.48 225.93L513.68 225.93L509.58 232.33Z" fill="none" stroke="#ff00ff" stroke-width="1.15"/>
<path d="M516.82 226.91L525.02 226.91L520.92 233.31Z" fill="none" stroke="#ff00ff" stroke-width="1.15"/>
<path d="M528.16 226.91L536.36 226.91L532.26 233.31Z" fill="none" stroke="#ff00ff" stroke-width="1.15"/>
<path d="M539.50 226.91L547.70 226.91L543.60 233.31Z" fill="none" stroke="#ff00ff" stroke-width="1.15"/>
<path d="M550.84 226.75L559.04 226.75L554.94 233.15Z" fill="none" stroke="#ff00ff" stroke-width="1.15"/>
<path d="M562.18 226.09L570.38 226.09L566.28 232.49Z" fill="none" stroke="#ff00ff" stroke-width="1.15"/>
<path d="M573.52 226.09L581.72 226.09L577.62 232.49Z" fill="none" stroke="#ff00ff" stroke-width="1.15"/>
<path d="M584.86 225.93L593.06 225.93L588.96 232.33Z" fill="none" stroke="#ff00ff" stroke-width="1.15"/>
<path d="M596.20 225.93L604.40 225.93L600.30 232.33Z" fill="none" stroke="#ff00ff" stroke-width="1.15"/>
<path d="M607.54 225.93L615.74 225.93L611.64 232.33Z" fill="none" stroke="#ff00ff" stroke-width="1.15"/>
<path d="M618.88 225.93L627.08 225.93L622.98 232.33Z" fill="none" stroke="#ff00ff" stroke-width="1.15"/>
<path d="M630.22 225.93L638.42 225.93L634.32 232.33Z" fill="none" stroke="#ff00ff" stroke-width="1.15"/>
<path d="M641.56 225.93L649.76 225.93L645.66 232.33Z" fill="none" stroke="#ff00ff" stroke-width="1.15"/>
<path d="M652.90 225.93L661.10 225.93L657.00 232.33Z" fill="none" stroke="#ff00ff" stroke-width="1.15"/>
<path d="M664.24 227.24L672.44 227.24L668.34 233.64Z" fill="none" stroke="#ff00ff" stroke-width="1.15"/>
<path d="M675.58 225.93L683.78 225.93L679.68 232.33Z" fill="none" stroke="#ff00ff" stroke-width="1.15"/>
<path d="M686.92 225.93L695.12 225.93L691.02 232.33Z" fill="none" stroke="#ff00ff" stroke-width="1.15"/>
<path d="M698.26 224.62L706.46 224.62L702.36 231.02Z" fill="none" stroke="#ff00ff" stroke-width="1.15"/>
<path d="M709.60 223.47L717.80 223.47L713.70 229.87Z" fill="none" stroke="#ff00ff" stroke-width="1.15"/>
<path d="M720.94 224.29L729.14 224.29L725.04 230.69Z" fill="none" stroke="#ff00ff" stroke-width="1.15"/>
<path d="M732.28 222.33L740.48 222.33L736.38 228.73Z" fill="none" stroke="#ff00ff" stroke-width="1.15"/>
<path d="M743.62 223.15L751.82 223.15L747.72 229.55Z" fill="none" stroke="#ff00ff" stroke-width="1.15"/>
<path d="M754.96 221.67L763.16 221.67L759.06 228.07Z" fill="none" stroke="#ff00ff" stroke-width="1.15"/>
<path d="M766.30 223.15L774.50 223.15L770.40 229.55Z" fill="none" stroke="#ff00ff" stroke-width="1.15"/>
<path d="M777.64 221.35L785.84 221.35L781.74 227.75Z" fill="none" stroke="#ff00ff" stroke-width="1.15"/>
<path d="M788.98 222.98L797.18 222.98L793.08 229.38Z" fill="none" stroke="#ff00ff" stroke-width="1.15"/>
<path d="M800.32 221.10L808.52 221.10L804.42 227.50Z" fill="none" stroke="#ff00ff" stroke-width="1.15"/>
<path d="M811.66 223.15L819.86 223.15L815.76 229.55Z" fill="none" stroke="#ff00ff" stroke-width="1.15"/>
<path d="M823.00 221.35L831.20 221.35L827.10 227.75Z" fill="none" stroke="#ff00ff" stroke-width="1.15"/>
<path d="M486.90 193.07L498.24 196.51L509.58 201.75L520.92 207.64L532.26 213.04L543.60 218.11L554.94 220.73L566.28 219.91L577.62 215.66L588.96 209.44L600.30 202.24L611.64 194.55L622.98 186.37L634.32 177.69L645.66 171.80L657.00 165.42L668.34 160.51L679.68 161.33L691.02 165.42L702.36 165.91L713.70 174.09L725.04 171.47L736.38 175.07L747.72 175.07L759.06 175.07L770.40 176.71L781.74 174.75L793.08 177.04L804.42 174.58L815.76 176.87L827.10 173.44L838.44 176.55" clip-path="url(#cb)" fill="none" stroke="#0000ff" stroke-width="1.15" stroke-linejoin="round"/>
<circle cx="486.90" cy="193.07" r="3.75" fill="#0000ff" stroke="none"/>
<circle cx="498.24" cy="196.51" r="3.75" fill="#0000ff" stroke="none"/>
<circle cx="509.58" cy="201.75" r="3.75" fill="#0000ff" stroke="none"/>
<circle cx="520.92" cy="207.64" r="3.75" fill="#0000ff" stroke="none"/>
<circle cx="532.26" cy="213.04" r="3.75" fill="#0000ff" stroke="none"/>
<circle cx="543.60" cy="218.11" r="3.75" fill="#0000ff" stroke="none"/>
<circle cx="554.94" cy="220.73" r="3.75" fill="#0000ff" stroke="none"/>
<circle cx="566.28" cy="219.91" r="3.75" fill="#0000ff" stroke="none"/>
<circle cx="577.62" cy="215.66" r="3.75" fill="#0000ff" stroke="none"/>
<circle cx="588.96" cy="209.44" r="3.75" fill="#0000ff" stroke="none"/>
<circle cx="600.30" cy="202.24" r="3.75" fill="#0000ff" stroke="none"/>
<circle cx="611.64" cy="194.55" r="3.75" fill="#0000ff" stroke="none"/>
<circle cx="622.98" cy="186.37" r="3.75" fill="#0000ff" stroke="none"/>
<circle cx="634.32" cy="177.69" r="3.75" fill="#0000ff" stroke="none"/>
<circle cx="645.66" cy="171.80" r="3.75" fill="#0000ff" stroke="none"/>
<circle cx="657.00" cy="165.42" r="3.75" fill="#0000ff" stroke="none"/>
<circle cx="668.34" cy="160.51" r="3.75" fill="#0000ff" stroke="none"/>
<circle cx="679.68" cy="161.33" r="3.75" fill="#0000ff" stroke="none"/>
<circle cx="691.02" cy="165.42" r="3.75" fill="#0000ff" stroke="none"/>
<circle cx="702.36" cy="165.91" r="3.75" fill="#0000ff" stroke="none"/>
<circle cx="713.70" cy="174.09" r="3.75" fill="#0000ff" stroke="none"/>
<circle cx="725.04" cy="171.47" r="3.75" fill="#0000ff" stroke="none"/>
<circle cx="736.38" cy="175.07" r="3.75" fill="#0000ff" stroke="none"/>
<circle cx="747.72" cy="175.07" r="3.75" fill="#0000ff" stroke="none"/>
<circle cx="759.06" cy="175.07" r="3.75" fill="#0000ff" stroke="none"/>
<circle cx="770.40" cy="176.71" r="3.75" fill="#0000ff" stroke="none"/>
<circle cx="781.74" cy="174.75" r="3.75" fill="#0000ff" stroke="none"/>
<circle cx="793.08" cy="177.04" r="3.75" fill="#0000ff" stroke="none"/>
<circle cx="804.42" cy="174.58" r="3.75" fill="#0000ff" stroke="none"/>
<circle cx="815.76" cy="176.87" r="3.75" fill="#0000ff" stroke="none"/>
<circle cx="827.10" cy="173.44" r="3.75" fill="#0000ff" stroke="none"/>
<path d="M486.90 193.56L498.24 193.89L509.58 194.38L520.92 194.38L532.26 194.22L543.60 193.40L554.94 192.26L566.28 191.11L577.62 190.13L588.96 188.66L600.30 187.18L611.64 185.22L622.98 182.27L634.32 179.00L645.66 173.27L657.00 166.89L668.34 156.91L679.68 143.00L691.02 123.69L702.36 111.75L713.70 93.42L725.04 84.09L736.38 71.17L747.72 60.37L759.06 50.55L770.40 38.93L781.74 30.59L793.08 19.30L804.42 10.46L815.76 1.46L827.10 -6.72" clip-path="url(#cb)" fill="none" stroke="#0000ff" stroke-width="1.15" stroke-linejoin="round"/>
<rect x="483.35" y="190.01" width="7.10" height="7.10" fill="#0000ff" stroke="none"/>
<rect x="494.69" y="190.34" width="7.10" height="7.10" fill="#0000ff" stroke="none"/>
<rect x="506.03" y="190.83" width="7.10" height="7.10" fill="#0000ff" stroke="none"/>
<rect x="517.37" y="190.83" width="7.10" height="7.10" fill="#0000ff" stroke="none"/>
<rect x="528.71" y="190.67" width="7.10" height="7.10" fill="#0000ff" stroke="none"/>
<rect x="540.05" y="189.85" width="7.10" height="7.10" fill="#0000ff" stroke="none"/>
<rect x="551.39" y="188.71" width="7.10" height="7.10" fill="#0000ff" stroke="none"/>
<rect x="562.73" y="187.56" width="7.10" height="7.10" fill="#0000ff" stroke="none"/>
<rect x="574.07" y="186.58" width="7.10" height="7.10" fill="#0000ff" stroke="none"/>
<rect x="585.41" y="185.11" width="7.10" height="7.10" fill="#0000ff" stroke="none"/>
<rect x="596.75" y="183.63" width="7.10" height="7.10" fill="#0000ff" stroke="none"/>
<rect x="608.09" y="181.67" width="7.10" height="7.10" fill="#0000ff" stroke="none"/>
<rect x="619.43" y="178.72" width="7.10" height="7.10" fill="#0000ff" stroke="none"/>
<rect x="630.77" y="175.45" width="7.10" height="7.10" fill="#0000ff" stroke="none"/>
<rect x="642.11" y="169.72" width="7.10" height="7.10" fill="#0000ff" stroke="none"/>
<rect x="653.45" y="163.34" width="7.10" height="7.10" fill="#0000ff" stroke="none"/>
<rect x="664.79" y="153.36" width="7.10" height="7.10" fill="#0000ff" stroke="none"/>
<rect x="676.13" y="139.45" width="7.10" height="7.10" fill="#0000ff" stroke="none"/>
<rect x="687.47" y="120.14" width="7.10" height="7.10" fill="#0000ff" stroke="none"/>
<rect x="698.81" y="108.20" width="7.10" height="7.10" fill="#0000ff" stroke="none"/>
<rect x="710.15" y="89.87" width="7.10" height="7.10" fill="#0000ff" stroke="none"/>
<rect x="721.49" y="80.54" width="7.10" height="7.10" fill="#0000ff" stroke="none"/>
<rect x="732.83" y="67.62" width="7.10" height="7.10" fill="#0000ff" stroke="none"/>
<rect x="744.17" y="56.82" width="7.10" height="7.10" fill="#0000ff" stroke="none"/>
<rect x="755.51" y="47.00" width="7.10" height="7.10" fill="#0000ff" stroke="none"/>
<rect x="766.85" y="35.38" width="7.10" height="7.10" fill="#0000ff" stroke="none"/>
<rect x="778.19" y="27.04" width="7.10" height="7.10" fill="#0000ff" stroke="none"/>
<rect x="789.53" y="15.75" width="7.10" height="7.10" fill="#0000ff" stroke="none"/>
<path d="M486.90 222.86L498.24 217.13L509.58 212.38L520.92 207.64L532.26 203.22L543.60 199.95L554.94 197.66L566.28 195.86L577.62 195.04L588.96 194.22L600.30 192.26L611.64 191.27L622.98 190.46L634.32 189.96L645.66 189.96L657.00 189.47L668.34 191.93L679.68 188.66L691.02 194.71L702.36 190.62L713.70 191.76L725.04 192.26L736.38 190.13L747.72 193.07L759.06 189.47L770.40 193.40L781.74 188.98L793.08 193.56L804.42 188.66L815.76 193.56L827.10 188.33L838.44 193.56" clip-path="url(#cb)" fill="none" stroke="#0000ff" stroke-width="1.15" stroke-linejoin="round"/>
<path d="M482.55 220.51L491.25 220.51L486.90 227.61Z" fill="#0000ff" stroke="none"/>
<path d="M493.89 214.78L502.59 214.78L498.24 221.88Z" fill="#0000ff" stroke="none"/>
<path d="M505.23 210.03L513.93 210.03L509.58 217.13Z" fill="#0000ff" stroke="none"/>
<path d="M516.57 205.29L525.27 205.29L520.92 212.39Z" fill="#0000ff" stroke="none"/>
<path d="M527.91 200.87L536.61 200.87L532.26 207.97Z" fill="#0000ff" stroke="none"/>
<path d="M539.25 197.60L547.95 197.60L543.60 204.70Z" fill="#0000ff" stroke="none"/>
<path d="M550.59 195.31L559.29 195.31L554.94 202.41Z" fill="#0000ff" stroke="none"/>
<path d="M561.93 193.51L570.63 193.51L566.28 200.61Z" fill="#0000ff" stroke="none"/>
<path d="M573.27 192.69L581.97 192.69L577.62 199.79Z" fill="#0000ff" stroke="none"/>
<path d="M584.61 191.87L593.31 191.87L588.96 198.97Z" fill="#0000ff" stroke="none"/>
<path d="M595.95 189.91L604.65 189.91L600.30 197.01Z" fill="#0000ff" stroke="none"/>
<path d="M607.29 188.92L615.99 188.92L611.64 196.02Z" fill="#0000ff" stroke="none"/>
<path d="M618.63 188.11L627.33 188.11L622.98 195.21Z" fill="#0000ff" stroke="none"/>
<path d="M629.97 187.61L638.67 187.61L634.32 194.71Z" fill="#0000ff" stroke="none"/>
<path d="M641.31 187.61L650.01 187.61L645.66 194.71Z" fill="#0000ff" stroke="none"/>
<path d="M652.65 187.12L661.35 187.12L657.00 194.22Z" fill="#0000ff" stroke="none"/>
<path d="M663.99 189.58L672.69 189.58L668.34 196.68Z" fill="#0000ff" stroke="none"/>
<path d="M675.33 186.31L684.03 186.31L679.68 193.41Z" fill="#0000ff" stroke="none"/>
<path d="M686.67 192.36L695.37 192.36L691.02 199.46Z" fill="#0000ff" stroke="none"/>
<path d="M698.01 188.27L706.71 188.27L702.36 195.37Z" fill="#0000ff" stroke="none"/>
<path d="M709.35 189.41L718.05 189.41L713.70 196.51Z" fill="#0000ff" stroke="none"/>
<path d="M720.69 189.91L729.39 189.91L725.04 197.01Z" fill="#0000ff" stroke="none"/>
<path d="M732.03 187.78L740.73 187.78L736.38 194.88Z" fill="#0000ff" stroke="none"/>
<path d="M743.37 190.72L752.07 190.72L747.72 197.82Z" fill="#0000ff" stroke="none"/>
<path d="M754.71 187.12L763.41 187.12L759.06 194.22Z" fill="#0000ff" stroke="none"/>
<path d="M766.05 191.05L774.75 191.05L770.40 198.15Z" fill="#0000ff" stroke="none"/>
<path d="M777.39 186.63L786.09 186.63L781.74 193.73Z" fill="#0000ff" stroke="none"/>
<path d="M788.73 191.21L797.43 191.21L793.08 198.31Z" fill="#0000ff" stroke="none"/>
<path d="M800.07 186.31L808.77 186.31L804.42 193.41Z" fill="#0000ff" stroke="none"/>
<path d="M811.41 191.21L820.11 191.21L815.76 198.31Z" fill="#0000ff" stroke="none"/>
<path d="M822.75 185.98L831.45 185.98L827.10 193.08Z" fill="#0000ff" stroke="none"/>
</g>
<text x="544.2" y="34.60" text-anchor="end">J<tspan dy="6.2" dx="1.1" font-size="16">x</tspan><tspan dy="-6.2">(p)</tspan></text>
<path d="M556.5 29.70H612.2" stroke="#ff00ff" stroke-width="1.15" fill="none"/>
<circle cx="584.35" cy="29.70" r="3.70" fill="none" stroke="#ff00ff" stroke-width="1.15"/>
<text x="544.2" y="55.60" text-anchor="end">J<tspan dy="6.2" dx="1.1" font-size="16">y</tspan><tspan dy="-6.2">(p)</tspan></text>
<path d="M556.5 50.70H612.2" stroke="#ff00ff" stroke-width="1.15" fill="none"/>
<rect x="581.05" y="47.40" width="6.60" height="6.60" fill="none" stroke="#ff00ff" stroke-width="1.15"/>
<text x="544.2" y="76.60" text-anchor="end">J<tspan dy="6.2" dx="1.1" font-size="16">z</tspan><tspan dy="-6.2">(p)</tspan></text>
<path d="M556.5 71.70H612.2" stroke="#ff00ff" stroke-width="1.15" fill="none"/>
<path d="M580.25 69.70L588.45 69.70L584.35 76.10Z" fill="none" stroke="#ff00ff" stroke-width="1.15"/>
<text x="544.2" y="97.60" text-anchor="end">J<tspan dy="6.2" dx="1.1" font-size="16">x</tspan><tspan dy="-6.2">(n)</tspan></text>
<path d="M556.5 92.70H612.2" stroke="#0000ff" stroke-width="1.15" fill="none"/>
<circle cx="584.35" cy="92.70" r="3.75" fill="#0000ff" stroke="none"/>
<text x="544.2" y="118.60" text-anchor="end">J<tspan dy="6.2" dx="1.1" font-size="16">y</tspan><tspan dy="-6.2">(n)</tspan></text>
<path d="M556.5 113.70H612.2" stroke="#0000ff" stroke-width="1.15" fill="none"/>
<rect x="580.80" y="110.15" width="7.10" height="7.10" fill="#0000ff" stroke="none"/>
<text x="544.2" y="139.60" text-anchor="end">J<tspan dy="6.2" dx="1.1" font-size="16">z</tspan><tspan dy="-6.2">(n)</tspan></text>
<path d="M556.5 134.70H612.2" stroke="#0000ff" stroke-width="1.15" fill="none"/>
<path d="M580.00 132.35L588.70 132.35L584.35 139.45Z" fill="#0000ff" stroke="none"/>
<text x="805" y="41.8" font-size="23.5">b)</text>
<g transform="translate(640,297.7) scale(1.04,1)"><text x="0.00" y="0" font-size="20.5" font-style="italic">I [</text><text x="19.93" y="0" font-size="20.5" font-style="italic">h</text><path d="M20.34 -13.22h8.61" stroke="#000" stroke-width="1"/><text x="30.18" y="0" font-size="20.5" font-style="italic">]</text></g>
<g transform="translate(450,194.2) rotate(-90)"><path d="M10.90 -12.9L1.30 -7.7" stroke="#000" stroke-width="0.9" fill="none"/><path d="M1.00 -8.0L7.70 -2.3" stroke="#000" stroke-width="2.0" fill="none"/><path d="M17.10 -12.9L7.50 -7.7" stroke="#000" stroke-width="0.9" fill="none"/><path d="M7.20 -8.0L13.90 -2.3" stroke="#000" stroke-width="2.0" fill="none"/><g transform="translate(14.6,0) scale(1.075,1)"><text x="0.00" y="0" font-size="20.5" font-style="italic">J</text><text x="9.10" y="7" font-size="17" font-style="italic">i</text><text x="13.82" y="-11.5" font-size="16" font-style="italic">2</text></g><path d="M47.00 -12.5L53.70 -7.0" stroke="#000" stroke-width="2.0" fill="none"/><path d="M53.40 -7.3L43.60 -1.4" stroke="#000" stroke-width="0.9" fill="none"/><path d="M52.40 -12.5L59.10 -7.0" stroke="#000" stroke-width="2.0" fill="none"/><path d="M58.80 -7.3L49.00 -1.4" stroke="#000" stroke-width="0.9" fill="none"/><g transform="translate(61.0,-0.6) scale(1.075,1)"><text x="0.00" y="-11" font-size="16" font-style="italic">1/2</text><text x="20.45" y="0" font-size="20.5" font-style="italic"> [</text><text x="33.55" y="0" font-size="20.5" font-style="italic">h</text><path d="M33.96 -13.22h8.61" stroke="#000" stroke-width="1"/><text x="43.80" y="0" font-size="20.5" font-style="italic">]</text></g></g>
</svg>
</body></html>
